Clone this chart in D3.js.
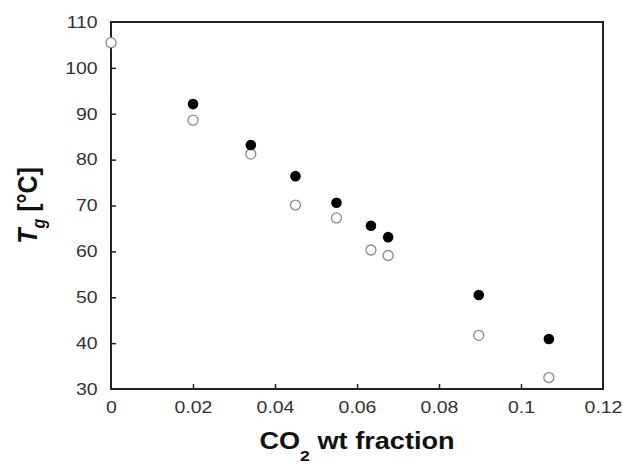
<!DOCTYPE html>
<html>
<head>
<meta charset="utf-8">
<script src="https://cdn.jsdelivr.net/npm/d3@7"></script>
<style>
  body { margin: 0; background: #fff; }
  text { font-family: "Liberation Sans", Arial, sans-serif; }
</style>
</head>
<body>
<div id="chart"></div>
<script>
// CO2 weight fraction for each measurement
const co2Filled = [0.020, 0.0341, 0.0450, 0.0550, 0.0634, 0.0676, 0.0897, 0.1068];
const tgFilled = [92.1, 83.2, 76.4, 70.6, 65.6, 63.1, 50.5, 40.9];

const co2Open = [0.0, 0.020, 0.0341, 0.0450, 0.0550, 0.0634, 0.0676, 0.0897, 0.1068];
const tgOpen = [105.5, 88.6, 81.2, 70.1, 67.3, 60.3, 59.1, 41.7, 32.5];

const xTicks = [0, 0.02, 0.04, 0.06, 0.08, 0.1, 0.12];
const yTicks = [30, 40, 50, 60, 70, 80, 90, 100, 110];

const width = 623, height = 464;
const margin = { top: 22, right: 20, bottom: 75, left: 111 };
const stretch = 1.18; // the original lettering is a bit wide

const svg = d3.select("#chart").append("svg")
  .attr("width", width)
  .attr("height", height);

const x = d3.scaleLinear().domain([0, 0.12]).range([margin.left, width - margin.right]);
const y = d3.scaleLinear().domain([30, 110]).range([height - margin.bottom, margin.top]);

// frame
svg.append("rect")
  .attr("x", x(0))
  .attr("y", y(110))
  .attr("width", x(0.12) - x(0))
  .attr("height", y(30) - y(110))
  .attr("fill", "none")
  .attr("stroke", "#222")
  .attr("stroke-width", 2);

// axes with inward ticks
const xAxis = svg.append("g")
  .attr("transform", `translate(0,${y(30)})`)
  .call(d3.axisBottom(x).tickValues(xTicks).tickSizeInner(-5).tickSizeOuter(0)
    .tickFormat(d => d === 0 ? "0" : String(+d.toFixed(2))));
const yAxis = svg.append("g")
  .attr("transform", `translate(${x(0)},0)`)
  .call(d3.axisLeft(y).tickValues(yTicks).tickSizeInner(-5).tickSizeOuter(0));

[xAxis, yAxis].forEach(g => {
  g.select(".domain").remove();
  g.selectAll(".tick line").attr("stroke", "#222").attr("stroke-width", 1.5);
  g.selectAll(".tick text")
    .attr("font-size", 16.5)
    .attr("fill", "#333")
    .attr("transform", `scale(${stretch},1)`);
});
xAxis.selectAll(".tick text").attr("dy", "1.25em");
yAxis.selectAll(".tick text").attr("x", -11.3);
// end ticks at the corners are hidden by the frame
xAxis.selectAll(".tick").filter(d => d === 0 || d === 0.12).select("line").remove();
yAxis.selectAll(".tick").filter(d => d === 30 || d === 110).select("line").remove();

// points
svg.append("g").selectAll("circle")
  .data(co2Open.map((c, i) => [c, tgOpen[i]]))
  .enter().append("circle")
  .attr("cx", d => x(d[0]))
  .attr("cy", d => y(d[1]))
  .attr("r", 5)
  .attr("fill", "#fff")
  .attr("stroke", "#888")
  .attr("stroke-width", 1.3);

svg.append("g").selectAll("circle")
  .data(co2Filled.map((c, i) => [c, tgFilled[i]]))
  .enter().append("circle")
  .attr("cx", d => x(d[0]))
  .attr("cy", d => y(d[1]))
  .attr("r", 5.3)
  .attr("fill", "#000");

// x title
const xt = svg.append("text")
  .attr("transform", `translate(${(x(0) + x(0.12)) / 2},449) scale(${stretch},1)`)
  .attr("text-anchor", "middle")
  .attr("font-size", 23)
  .attr("font-weight", "bold")
  .attr("fill", "#111");
xt.append("tspan").text("CO");
xt.append("tspan").attr("font-size", 15).attr("dy", 12).text("2");
xt.append("tspan").attr("dy", -12).text(" wt fraction");

// y title
const yt = svg.append("text")
  .attr("transform", `translate(37,${(y(30) + y(110)) / 2}) rotate(-90) scale(1,1.1)`)
  .attr("text-anchor", "middle")
  .attr("font-size", 25)
  .attr("font-weight", "bold")
  .attr("fill", "#111");
yt.append("tspan").attr("font-style", "italic").text("T");
yt.append("tspan").attr("font-style", "italic").attr("font-size", 16).attr("dy", 7).text("g");
yt.append("tspan").attr("dy", -7).text(" [°C]");
</script>
</body>
</html>
